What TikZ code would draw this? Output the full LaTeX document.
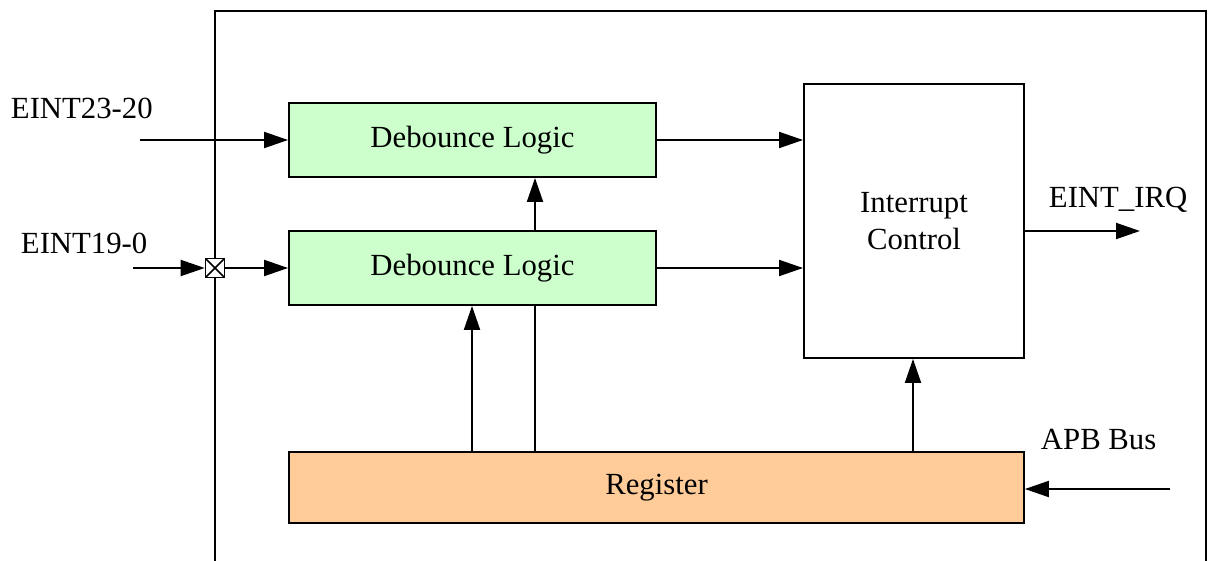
\documentclass[tikz,border=0pt]{standalone}
\usepackage{xcolor}
\usepackage{fontspec}
\setmainfont{Liberation Serif}
\usepackage{tikz}
\usetikzlibrary{positioning,arrows,arrows.meta}

\definecolor{dbgreen}{HTML}{CCFFCC}
\definecolor{regorange}{HTML}{FFCC99}

\begin{document}
\begin{tikzpicture}[->,>={Triangle[length=0.48cm,width=0.32cm]},line width=1.1pt, x=0.02cm, y=-0.02cm,
	every node/.style={font=\fontsize{17.5}{21}\selectfont},
	block/.style={draw,rectangle,inner sep=0pt},
	debounce/.style={block,fill=dbgreen,minimum width=7.34cm,minimum height=1.48cm},
	lbl/.style={anchor=base west,inner sep=0pt}]

	\useasboundingbox (0,0) rectangle (1208,561);

	% The frame
	\draw[-] (215,561) -- (215,11) -- (1206,11) -- (1206,561);

	% The blocks
	\node [debounce] at (472.5,140) (dbA) {Debounce Logic};
	\node [debounce] at (472.5,268) (dbB) {Debounce Logic};
	\node [block,fill=white,minimum width=4.4cm,minimum height=5.48cm,align=center] at (914,221) (ic) {Interrupt\\Control};
	\node [block,fill=regorange,minimum width=14.7cm,minimum height=1.42cm] at (656.5,487.5) (reg) {Register};
	\node [block,fill=white,minimum size=0.38cm,line width=0.9pt,
		path picture={\draw[-,line width=0.9pt] (path picture bounding box.south west) -- (path picture bounding box.north east)
			(path picture bounding box.north west) -- (path picture bounding box.south east);}] at (215,268) (xbox) {};

	% Labels
	\node [lbl] at (10,118) (l23) {EINT23-20};
	\node [lbl] at (20,253) (l19) {EINT19-0};
	\node [lbl] at (1048,207) (lirq) {EINT\_IRQ};
	\node [lbl] at (1040,449) (lapb) {APB Bus};

	% Free ends
	\coordinate (in23) at (140,140);
	\coordinate (in19) at (133,268);
	\coordinate (irq) at (1140,231);
	\coordinate (apb) at (1170,489);
	\coordinate (tapA) at (472,0);
	\coordinate (tapB) at (535,0);
	\coordinate (tapC) at (913,0);

	% Connections
	\path[->]
	(in23) edge (dbA)
	(in19) edge (xbox)
	(xbox) edge (dbB)
	(dbA.east) edge (dbA.east -| ic.west)
	(dbB.east) edge (dbB.east -| ic.west)
	(ic.east |- irq) edge (irq)
	(apb) edge (apb -| reg.east)
	(reg.north -| tapA) edge (dbB.south -| tapA)
	(dbB.north -| tapB) edge (dbA.south -| tapB)
	(reg.north -| tapC) edge (ic.south -| tapC);

	\path[-]
	(reg.north -| tapB) edge (dbB.south -| tapB);

\end{tikzpicture}
\end{document}
